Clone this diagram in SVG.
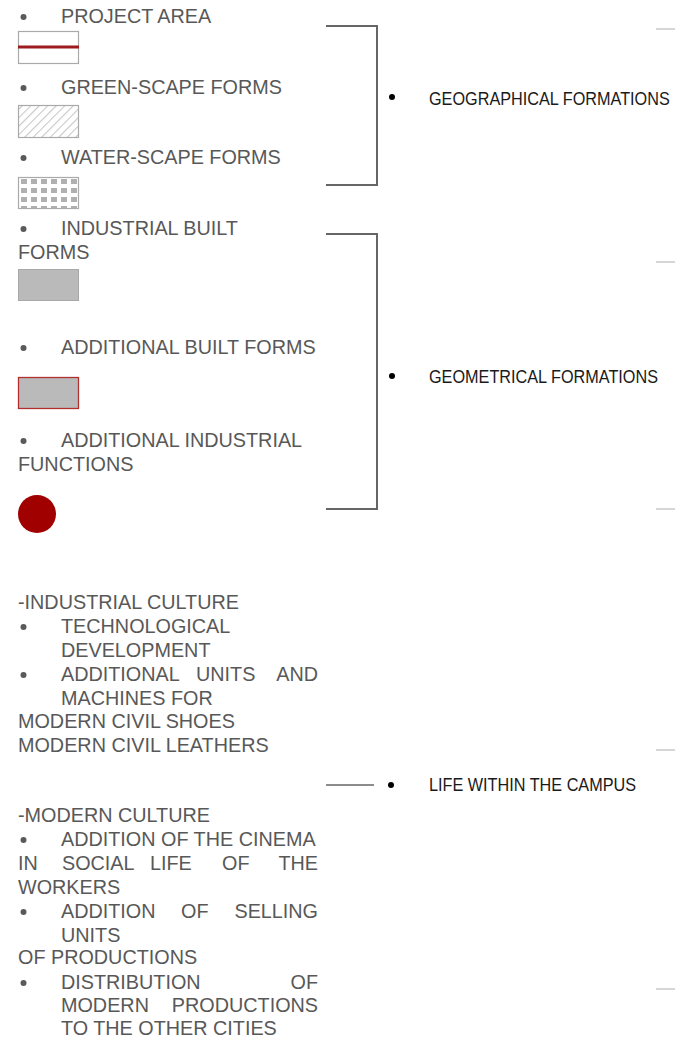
<svg xmlns="http://www.w3.org/2000/svg" width="675" height="1043" viewBox="0 0 675 1043">
<style>
.t{font-family:"Liberation Sans",Arial,sans-serif;font-size:19.8px;fill:#585858}
.r{font-family:"Liberation Sans",Arial,sans-serif;font-size:18.5px;fill:#1a1a1a}
.b{fill:#5a5a5a}
.rb{fill:#000}
.br{fill:none;stroke:#666;stroke-width:2}
.dash{stroke:#bbb;stroke-width:1.2}
.box{stroke:#aaa;stroke-width:1.2}
</style>
<defs>
<pattern id="hatch" patternUnits="userSpaceOnUse" width="6" height="6" patternTransform="rotate(45)">
<line x1="0" y1="0" x2="0" y2="6" stroke="#c8c8c8" stroke-width="2.2"/>
</pattern>
<pattern id="dots" patternUnits="userSpaceOnUse" x="21" y="179" width="10" height="9">
<rect x="0" y="0" width="6" height="5" fill="#b0b0b0"/>
</pattern>
</defs>
<rect width="675" height="1043" fill="#fff"/>

<g id="project-area">
<circle class="b" cx="23.5" cy="17" r="3"/>
<text class="t" x="61" y="23">PROJECT AREA</text>
<rect class="box" x="18.5" y="31.5" width="60" height="32" fill="#fff"/>
<line x1="18" y1="47" x2="79" y2="47" stroke="#9b1b1f" stroke-width="3.2"/>
</g>
<g id="green-scape">
<circle class="b" cx="23.5" cy="88" r="3"/>
<text class="t" x="61" y="94">GREEN-SCAPE FORMS</text>
<rect class="box" x="18.5" y="105.5" width="60" height="32" fill="url(#hatch)"/>
</g>
<g id="water-scape">
<circle class="b" cx="23.5" cy="158" r="3"/>
<text class="t" x="61" y="164">WATER-SCAPE FORMS</text>
<rect x="18.5" y="177.5" width="60" height="31" fill="#fff"/>
<rect x="19" y="178" width="59" height="30" fill="url(#dots)"/>
<rect class="box" x="18.5" y="177.5" width="60" height="31" fill="none"/>
</g>
<g id="industrial-built">
<circle class="b" cx="23.5" cy="229" r="3"/>
<text class="t" x="61" y="235">INDUSTRIAL BUILT</text>
<text class="t" x="18" y="259">FORMS</text>
<rect x="18.5" y="269.5" width="60" height="31" fill="#bababa" stroke="#a8a8a8" stroke-width="1"/>
</g>
<g id="additional-built">
<circle class="b" cx="23.5" cy="348" r="3"/>
<text class="t" x="61" y="354">ADDITIONAL BUILT FORMS</text>
<rect x="18.5" y="377.5" width="60" height="31" fill="#bababa" stroke="#b03030" stroke-width="1.3"/>
</g>
<g id="additional-industrial">
<circle class="b" cx="23.5" cy="441" r="3"/>
<text class="t" x="61" y="447">ADDITIONAL INDUSTRIAL</text>
<text class="t" x="18" y="471">FUNCTIONS</text>
<circle cx="37" cy="514" r="19" fill="#a10000"/>
</g>

<g id="connectors">
<path class="br" d="M326 26 H377 V185 H326"/>
<path class="br" d="M326 234 H377 V509 H326"/>
<line x1="326" y1="785" x2="374" y2="785" stroke="#666" stroke-width="1.6"/>
<line class="dash" x1="656" y1="29" x2="675" y2="29"/>
<line class="dash" x1="656" y1="262" x2="675" y2="262"/>
<line class="dash" x1="656" y1="509" x2="675" y2="509"/>
<line class="dash" x1="656" y1="750" x2="675" y2="750"/>
<line class="dash" x1="656" y1="989" x2="675" y2="989"/>
</g>

<g id="geographical">
<circle class="rb" cx="392" cy="97" r="3"/>
<text class="r" transform="translate(429 105) scale(0.878 1)" x="0" y="0">GEOGRAPHICAL FORMATIONS</text>
</g>
<g id="geometrical">
<circle class="rb" cx="392" cy="376" r="3"/>
<text class="r" transform="translate(429 383) scale(0.878 1)" x="0" y="0">GEOMETRICAL FORMATIONS</text>
</g>
<g id="life">
<circle class="rb" cx="391" cy="785" r="3"/>
<text class="r" transform="translate(429 791) scale(0.878 1)" x="0" y="0">LIFE WITHIN THE CAMPUS</text>
</g>

<g id="industrial-culture">
<text class="t" x="18" y="609">-INDUSTRIAL CULTURE</text>
<circle class="b" cx="23.5" cy="627" r="3"/>
<text class="t" x="61" y="633">TECHNOLOGICAL</text>
<text class="t" x="61" y="657">DEVELOPMENT</text>
<circle class="b" cx="23.5" cy="675" r="3"/>
<text class="t" x="61" y="681">ADDITIONAL</text>
<text class="t" x="196" y="681">UNITS</text>
<text class="t" x="318" y="681" text-anchor="end">AND</text>
<text class="t" x="61" y="705">MACHINES FOR</text>
<text class="t" x="18" y="728">MODERN CIVIL SHOES</text>
<text class="t" x="18" y="752">MODERN CIVIL LEATHERS</text>
</g>

<g id="modern-culture">
<text class="t" x="18" y="822">-MODERN CULTURE</text>
<circle class="b" cx="23.5" cy="840" r="3"/>
<text class="t" x="61" y="846">ADDITION OF THE CINEMA</text>
<text class="t" x="18" y="870">IN</text>
<text class="t" x="62" y="870">SOCIAL</text>
<text class="t" x="150" y="870">LIFE</text>
<text class="t" x="222" y="870">OF</text>
<text class="t" x="318" y="870" text-anchor="end">THE</text>
<text class="t" x="18" y="894">WORKERS</text>
<circle class="b" cx="23.5" cy="912" r="3"/>
<text class="t" x="61" y="918">ADDITION</text>
<text class="t" x="181" y="918">OF</text>
<text class="t" x="318" y="918" text-anchor="end">SELLING</text>
<text class="t" x="61" y="942">UNITS</text>
<text class="t" x="18" y="964">OF PRODUCTIONS</text>
<circle class="b" cx="23.5" cy="983" r="3"/>
<text class="t" x="61" y="989">DISTRIBUTION</text>
<text class="t" x="318" y="989" text-anchor="end">OF</text>
<text class="t" x="61" y="1012">MODERN</text>
<text class="t" x="318" y="1012" text-anchor="end">PRODUCTIONS</text>
<text class="t" x="61" y="1035">TO THE OTHER CITIES</text>
</g>
</svg>
